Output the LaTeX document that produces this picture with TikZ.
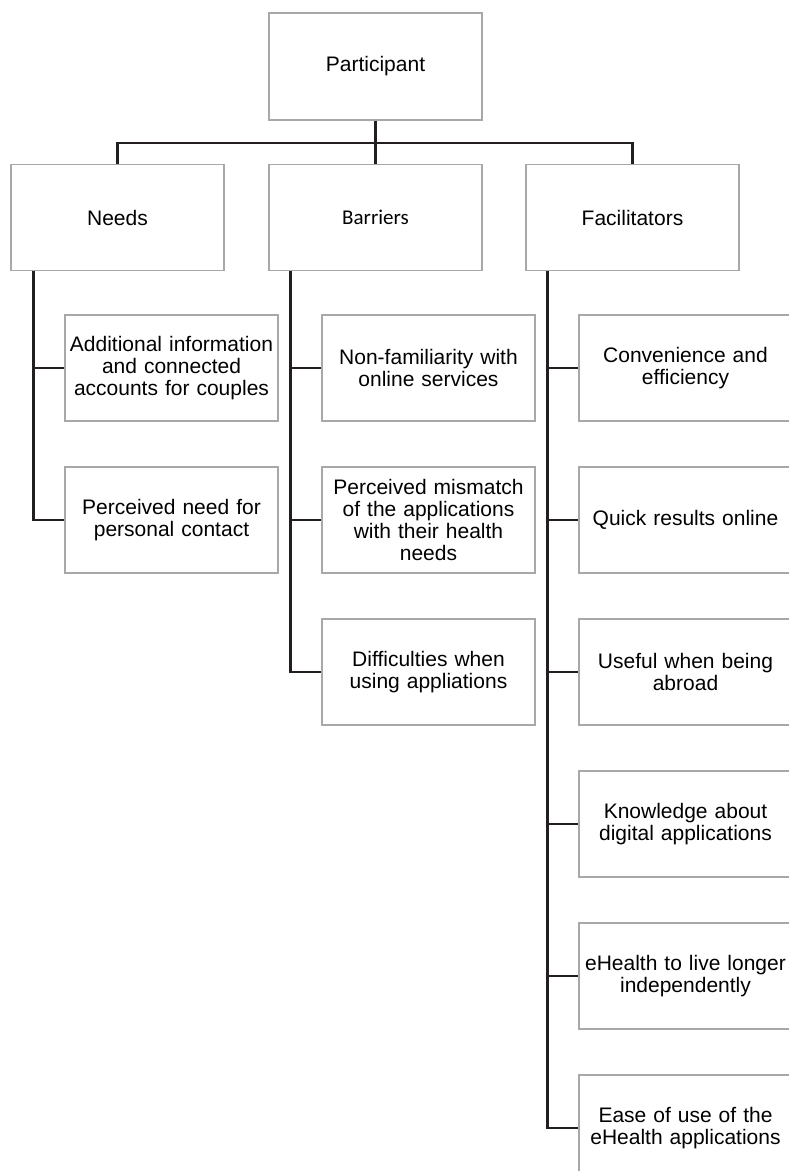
\documentclass[tikz,border=0pt]{standalone}
\usepackage{fontspec}
\setmainfont{Liberation Sans}
\newfontfamily\calib{Carlito}
\definecolor{boxgrey}{HTML}{A8A8A8}
\definecolor{linkblack}{HTML}{231F20}
\begin{document}
\begin{tikzpicture}[x=1pt,y=-1pt,
  box/.style={draw=boxgrey, line width=1.3pt, rectangle, minimum width=213pt,
    minimum height=106pt, inner sep=0pt, align=center, text width=208pt,
    font=\fontsize{21}{22}\selectfont},
  link/.style={draw=linkblack, line width=2.6pt}]
\useasboundingbox (0,0) rectangle (789,1171);
\clip (0,0) rectangle (789,1171);

% top levels
\node[box, minimum height=107pt] (P) at (375.5,66.5) {Participant};
\node[box] (N) at (117.5,217.5) {Needs};
\node[box] (B) at (375.5,217.5) {\calib Barriers};
\node[box] (F) at (632.5,217.5) {Facilitators};

\coordinate (bar) at (375.5,143);
\draw[link] (P.south) -- (B.north);
\draw[link] (N.north) |- (bar) -| (F.north);

% Needs
\node[box] (n1) at (171.5,368) {Additional information\\and connected\\accounts for couples};
\node[box] (n2) at (171.5,520) {Perceived need for\\personal contact};
\coordinate (nt) at ([xshift=23pt]N.south west);
\draw[link] (nt) |- (n2.west);
\draw[link] (nt |- n1.west) -- (n1.west);

% Barriers
\node[box] (b1) at (428.5,368) {Non-familiarity with\\online services};
\node[box] (b2) at (428.5,520) {Perceived mismatch\\of the applications\\with their health\\needs};
\node[box] (b3) at (428.5,672) {Difficulties when\\using appliations};
\coordinate (bt) at ([xshift=22pt]B.south west);
\draw[link] (bt) |- (b3.west);
\draw[link] (bt |- b1.west) -- (b1.west);
\draw[link] (bt |- b2.west) -- (b2.west);

% Facilitators
\node[box] (f1) at (685.5,368) {Convenience and\\efficiency};
\node[box] (f2) at (685.5,520) {Quick results online};
\node[box] (f3) at (685.5,672) {Useful when being\\abroad};
\node[box] (f4) at (685.5,824) {Knowledge about\\digital applications};
\node[box] (f5) at (685.5,976) {eHealth to live longer\\independently};
\node[box] (f6) at (685.5,1128) {Ease of use of the\\eHealth applications};
\coordinate (ft) at ([xshift=22pt]F.south west);
\draw[link] (ft) |- (f6.west);
\draw[link] (ft |- f1.west) -- (f1.west);
\draw[link] (ft |- f2.west) -- (f2.west);
\draw[link] (ft |- f3.west) -- (f3.west);
\draw[link] (ft |- f4.west) -- (f4.west);
\draw[link] (ft |- f5.west) -- (f5.west);
\end{tikzpicture}
\end{document}
